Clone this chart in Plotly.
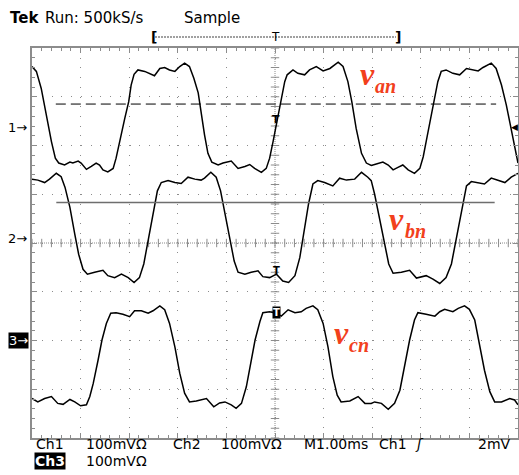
import numpy as np
import plotly.graph_objects as go

W, H = 519, 475
X0, X1 = 32, 518      # graticule left/right (px)
Y0, Y1 = 48, 438      # graticule top/bottom (px)

# ---------------- data (time in ms, trigger at 0; voltage in mV vs. channel ground) ----
t_an = [-5.00,-4.91,-4.81,-4.71,-4.60,-4.52,-4.45,-4.33,-4.22,-4.16,-4.05,-3.99,-3.88,-3.78,
        -3.68,-3.61,-3.54,-3.44,-3.33,-3.27,-3.20,-3.09,-3.01,-2.96,-2.90,-2.82,-2.68,-2.58,
        -2.48,-2.37,-2.27,-2.17,-2.06,-1.96,-1.86,-1.76,-1.67,-1.58,-1.52,-1.45,-1.38,-1.30,
        -1.17,-1.07,-0.90,-0.76,-0.62,-0.52,-0.42,-0.28,-0.18,-0.11,-0.04,0.05,0.13,0.20,
        0.25,0.37,0.47,0.61,0.71,0.85,0.99,1.13,1.30,1.40,1.50,1.58,1.67,1.78,1.88,1.98,
        2.05,2.22,2.33,2.43,2.53,2.63,2.74,2.87,2.98,3.05,3.11,3.20,3.29,3.35,3.42,3.52,
        3.66,3.80,3.94,4.07,4.18,4.28,4.45,4.55,4.66,4.76,4.86,4.93,5.00]
v_an = [126,116,81,27,-28,-62,-72,-76,-70,-72,-68,-72,-85,-79,-72,-76,-86,-90,-83,-62,-28,
        20,54,88,110,119,116,112,107,122,124,119,116,126,133,126,102,72,31,-14,-52,-70,-76,
        -72,-68,-83,-79,-75,-83,-91,-83,-62,-28,16,61,95,109,119,112,109,119,126,117,122,
        135,126,95,54,-1,-52,-72,-77,-75,-70,-76,-86,-81,-76,-86,-93,-83,-59,-28,20,61,95,
        116,119,112,109,122,119,117,124,133,122,88,47,-1,-42,-72]

t_bn = [-5.00,-4.88,-4.74,-4.64,-4.50,-4.40,-4.32,-4.22,-4.12,-4.04,-3.95,-3.86,-3.71,-3.54,
        -3.44,-3.30,-3.16,-3.02,-2.90,-2.79,-2.70,-2.61,-2.51,-2.42,-2.34,-2.20,-2.06,-1.93,
        -1.79,-1.65,-1.52,-1.45,-1.32,-1.21,-1.12,-1.03,-0.93,-0.84,-0.76,-0.62,-0.49,-0.35,
        -0.25,-0.11,0.03,0.16,0.28,0.41,0.51,0.60,0.69,0.78,0.88,1.02,1.19,1.33,1.47,1.64,
        1.78,1.91,1.98,2.05,2.15,2.26,2.34,2.43,2.60,2.77,2.91,3.11,3.25,3.39,3.52,3.63,
        3.73,3.83,3.94,4.04,4.18,4.31,4.45,4.59,4.73,4.86,5.00]
v_bn = [121,119,114,121,133,126,104,63,8,-33,-64,-74,-70,-66,-77,-81,-74,-81,-91,-81,-53,-6,
        49,97,114,118,114,112,125,121,119,123,135,125,97,49,-6,-47,-70,-74,-70,-67,-79,-81,
        -74,-88,-91,-77,-40,15,70,111,118,114,107,123,119,121,135,125,118,90,43,-12,-53,-72,
        -70,-66,-82,-77,-84,-93,-81,-53,1,56,107,116,114,111,123,119,114,125,133]

t_cn = [-5.00,-4.88,-4.74,-4.60,-4.47,-4.36,-4.22,-4.12,-4.00,-3.88,-3.81,-3.74,-3.64,-3.56,
        -3.47,-3.38,-3.27,-3.13,-2.99,-2.89,-2.75,-2.61,-2.51,-2.37,-2.27,-2.17,-2.06,-1.96,
        -1.86,-1.76,-1.62,-1.50,-1.41,-1.26,-1.14,-1.03,-0.90,-0.80,-0.69,-0.59,-0.50,-0.41,
        -0.31,-0.25,-0.11,0.03,0.13,0.27,0.41,0.54,0.64,0.78,0.88,0.99,1.09,1.19,1.28,1.36,
        1.54,1.71,1.85,1.98,2.05,2.19,2.33,2.46,2.57,2.67,2.77,2.87,2.94,3.11,3.29,3.39,
        3.49,3.66,3.77,3.90,4.00,4.11,4.21,4.31,4.42,4.52,4.66,4.83,4.93,5.00]
v_cn = [-119,-126,-119,-115,-129,-131,-121,-126,-134,-132,-115,-88,-40,1,35,56,57,54,49,61,
        61,56,61,71,63,35,-13,-67,-108,-126,-124,-121,-119,-136,-128,-126,-132,-139,-129,-95,
        -47,1,39,57,59,56,50,63,57,59,66,71,63,35,-13,-74,-112,-126,-124,-115,-129,-129,-126,
        -129,-141,-129,-102,-47,1,42,57,54,50,59,64,59,66,71,64,42,-6,-61,-105,-126,-126,
        -119,-122,-132]

channels = ["Ch1", "Ch2", "Ch3"]
labels = ["an", "bn", "cn"]
ground_div = [2.36, 0.10, -2.0]   # channel ground marker positions (div)
mv_per_div = [100, 100, 100]
cursor_dashed_div = 2.85
cursor_solid_div = 0.83

# ---------------- helpers ----------------
def px(x):
    return x / W

def py(y):
    return 1 - y / H

GRID = "#8c8c8c"
fig = go.Figure()

# center lines with minor ticks
fig.add_shape(type="line", x0=-5, x1=5, y0=0, y1=0, xref="x", yref="y",
              line=dict(color=GRID, width=1, dash="1px,1px"), layer="below")
fig.add_shape(type="line", x0=0, x1=0, y0=-4, y1=4, xref="x", yref="y",
              line=dict(color=GRID, width=1, dash="1px,1px"), layer="below")
mt = np.round(np.arange(-5, 5.001, 0.2), 3)
fig.add_trace(go.Scatter(x=mt, y=np.zeros_like(mt), mode="markers", hoverinfo="skip",
                         marker=dict(symbol="line-ns", size=6, line=dict(color=GRID, width=1))))
mv = np.round(np.arange(-4, 4.001, 0.2), 3)
fig.add_trace(go.Scatter(x=np.zeros_like(mv), y=mv, mode="markers", hoverinfo="skip",
                         marker=dict(symbol="line-ew", size=6, line=dict(color=GRID, width=1))))

# cursors
fig.add_shape(type="line", x0=-4.51, x1=4.55, y0=cursor_dashed_div, y1=cursor_dashed_div,
              xref="x", yref="y", line=dict(color="black", width=1, dash="10px,5px"))
fig.add_shape(type="line", x0=-4.50, x1=4.52, y0=cursor_solid_div, y1=cursor_solid_div,
              xref="x", yref="y", line=dict(color="#6e6e6e", width=1.5))

# waveforms
for (t, v), g, s in zip([(t_an, v_an), (t_bn, v_bn), (t_cn, v_cn)], ground_div, mv_per_div):
    fig.add_trace(go.Scatter(x=t, y=[g + vv / s for vv in v], mode="lines",
                             line=dict(color="black", width=1.5), hoverinfo="skip"))

ann = []
def txt(x, y, s, size=14, bold=False, color="black", xanchor="left", family="DejaVu Sans",
        bg=None, xref="paper", yref="paper"):
    d = dict(x=x, y=y, xref=xref, yref=yref, text=("<b>%s</b>" % s) if bold else s,
             showarrow=False, xanchor=xanchor, yanchor="middle",
             font=dict(family=family, size=size, color=color))
    if bg:
        d["bgcolor"] = bg
        d["borderpad"] = 0
    ann.append(d)

# header
txt(px(8), py(18), "Tek", size=15, bold=True)
txt(px(43), py(18), "Run: 500kS/s", size=15)
txt(px(182), py(18), "Sample", size=15)
fig.add_shape(type="line", xref="paper", yref="paper", x0=px(155), x1=px(396), y0=py(37), y1=py(37),
              line=dict(color="#a0a0a0", width=2, dash="2px,1px"))
txt(px(154), py(37), "[", size=14, bold=True, xanchor="center")
txt(px(398), py(37), "]", size=14, bold=True, xanchor="center")
txt(px(275), py(37), "T", size=12, xanchor="center")

# footer
txt(px(34), py(444), "Ch1", size=14)
txt(px(84), py(444), "100mVΩ", size=14)
txt(px(171), py(444), "Ch2", size=14)
txt(px(219), py(444), "100mVΩ", size=14)
txt(px(302), py(444), "M1.00ms", size=14)
txt(px(377), py(444), "Ch1", size=14)
txt(px(413), py(444), "<i>ʃ</i>", size=14)
txt(px(513), py(444), "2mV", size=14, xanchor="right")
txt(px(34), py(461), "Ch3", size=14, bold=True, color="white", bg="black")
txt(px(84), py(461), "100mVΩ", size=14)

# channel ground markers
txt(px(29), ground_div[0], "1→", size=13, xanchor="right", yref="y")
txt(px(29), ground_div[1], "2→", size=13, xanchor="right", yref="y")
txt(px(29), ground_div[2], "3→", size=13, xanchor="right", yref="y", color="white", bg="black")

# trigger markers
txt(px(276), py(119), "<b>T</b>", size=11, xanchor="center")
txt(px(276), py(270), "<b>T</b>", size=10, xanchor="center")
txt(px(276), py(312), "<b>T</b>", size=10, xanchor="center", color="white", bg="black")
txt(px(514), py(127), "◀", size=9, xanchor="center")

# red labels
RED = "#f2401c"
SERIF = "Liberation Serif"
for (vx, vy, sx, sy, lab) in [(367, 74, 373, 86, labels[0]), (396, 219, 403, 231, labels[1]),
                              (341, 333, 347, 345, labels[2])]:
    txt(px(vx), py(vy), "<b><i>v</i></b>", size=32, color=RED, family=SERIF, xanchor="center")
    txt(px(sx), py(sy), "<b><i>%s</i></b>" % lab, size=20, color=RED, family=SERIF)

fig.update_layout(
    width=W, height=H, margin=dict(l=0, r=0, t=0, b=0),
    paper_bgcolor="white", plot_bgcolor="white", showlegend=False,
    annotations=ann,
    xaxis=dict(domain=[px(X0), px(X1)], range=[-5, 5], dtick=1, tick0=0,
               showgrid=True, gridcolor=GRID, gridwidth=1, griddash="1px,8.72px",
               zeroline=False, showticklabels=False, ticks="inside", ticklen=5,
               tickcolor=GRID, showline=True, linecolor=GRID, linewidth=1.5, mirror="ticks",
               minor=dict(dtick=0.2, ticks="inside", ticklen=3, tickcolor=GRID, showgrid=False),
               fixedrange=True),
    yaxis=dict(domain=[py(Y1), py(Y0)], range=[-4, 4], dtick=1, tick0=0,
               showgrid=True, gridcolor=GRID, gridwidth=1, griddash="1px,8.75px",
               zeroline=False, showticklabels=False, ticks="inside", ticklen=5,
               tickcolor=GRID, showline=True, linecolor=GRID, linewidth=1.5, mirror="ticks",
               minor=dict(dtick=0.2, ticks="inside", ticklen=3, tickcolor=GRID, showgrid=False),
               fixedrange=True),
)
fig.write_html("out.html")
